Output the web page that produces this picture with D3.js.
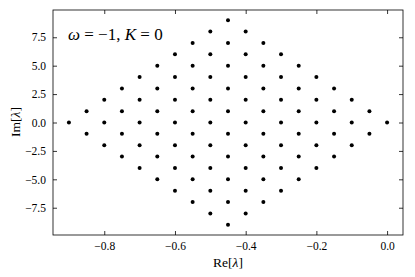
<!DOCTYPE html>
<html>
<head>
<meta charset="utf-8">
<script src="https://cdn.jsdelivr.net/npm/d3@7"></script>
<style>
  body { margin: 0; background: #fff; }
  text { font-family: "Liberation Serif", "Times New Roman", serif; fill: #000; }
</style>
</head>
<body>
<svg id="chart" width="415" height="277"></svg>
<script>
// eigenvalue columns: real part and the imaginary parts found at it
var re_vals = [0, -0.05, -0.1, -0.15, -0.2, -0.25, -0.3, -0.35, -0.4, -0.45,
               -0.5, -0.55, -0.6, -0.65, -0.7, -0.75, -0.8, -0.85, -0.9];
var im_vals = [
  [0],
  [-1, 1],
  [-2, 0, 2],
  [-3, -1, 1, 3],
  [-4, -2, 0, 2, 4],
  [-5, -3, -1, 1, 3, 5],
  [-6, -4, -2, 0, 2, 4, 6],
  [-7, -5, -3, -1, 1, 3, 5, 7],
  [-8, -6, -4, -2, 0, 2, 4, 6, 8],
  [-9, -7, -5, -3, -1, 1, 3, 5, 7, 9],
  [-8, -6, -4, -2, 0, 2, 4, 6, 8],
  [-7, -5, -3, -1, 1, 3, 5, 7],
  [-6, -4, -2, 0, 2, 4, 6],
  [-5, -3, -1, 1, 3, 5],
  [-4, -2, 0, 2, 4],
  [-3, -1, 1, 3],
  [-2, 0, 2],
  [-1, 1],
  [0]
];
var x_ticks = [-0.8, -0.6, -0.4, -0.2, 0.0];
var y_ticks = [-7.5, -5.0, -2.5, 0.0, 2.5, 5.0, 7.5];

var m_left = 53, m_right = 403, m_top = 10, m_bottom = 235;

var svg = d3.select("#chart");

var x = d3.scaleLinear().domain([-0.945, 0.045]).range([m_left, m_right]);
var y = d3.scaleLinear().domain([-9.9, 9.9]).range([m_bottom, m_top]);

var points = [];
re_vals.forEach(function(r, i) {
  im_vals[i].forEach(function(m) { points.push([r, m]); });
});

svg.selectAll("circle.pt")
  .data(points)
  .enter().append("circle")
  .attr("class", "pt")
  .attr("cx", d => x(d[0]))
  .attr("cy", d => y(d[1]))
  .attr("r", 2)
  .attr("fill", "#000");

function fmt(v) { return v.toFixed(1).replace("-", "\u2212"); }

// axes with inward ticks on all four sides
var ax_b = svg.append("g").attr("transform", "translate(0," + m_bottom + ")")
  .call(d3.axisBottom(x).tickValues(x_ticks).tickSizeInner(-4).tickSizeOuter(0).tickPadding(7).tickFormat(fmt));
var ax_t = svg.append("g").attr("transform", "translate(0," + m_top + ")")
  .call(d3.axisTop(x).tickValues(x_ticks).tickSizeInner(-4).tickSizeOuter(0).tickFormat(""));
var ax_l = svg.append("g").attr("transform", "translate(" + m_left + ",0)")
  .call(d3.axisLeft(y).tickValues(y_ticks).tickSizeInner(-4).tickSizeOuter(0).tickPadding(7).tickFormat(fmt));
var ax_r = svg.append("g").attr("transform", "translate(" + m_right + ",0)")
  .call(d3.axisRight(y).tickValues(y_ticks).tickSizeInner(-4).tickSizeOuter(0).tickFormat(""));

[ax_b, ax_t, ax_l, ax_r].forEach(function(a) {
  a.attr("font-family", null);
  a.select(".domain").remove();
  a.selectAll("line").attr("stroke", "#000").attr("stroke-width", 0.8);
  a.selectAll("text").style("font-family", "'Liberation Serif', serif").style("font-size", "11.5px").attr("fill", "#000");
});

// frame
svg.append("rect")
  .attr("x", m_left).attr("y", m_top)
  .attr("width", m_right - m_left).attr("height", m_bottom - m_top)
  .attr("fill", "none").attr("stroke", "#000").attr("stroke-width", 0.8);

// labels
var xl = svg.append("text").attr("x", 228).attr("y", 267)
  .attr("text-anchor", "middle").style("font-size", "13.5px");
xl.append("tspan").text("Re[");
xl.append("tspan").style("font-style", "italic").text("\u03bb");
xl.append("tspan").text("]");

var yl = svg.append("text")
  .attr("transform", "translate(20,122) rotate(-90)")
  .attr("text-anchor", "middle").style("font-size", "13.5px");
yl.append("tspan").text("Im[");
yl.append("tspan").style("font-style", "italic").text("\u03bb");
yl.append("tspan").text("]");

var ttl = svg.append("text").attr("x", 68).attr("y", 40).style("font-size", "17px");
ttl.append("tspan").style("font-style", "italic").text("\u03c9");
ttl.append("tspan").text(" = \u22121, ");
ttl.append("tspan").style("font-style", "italic").text("K");
ttl.append("tspan").text(" = 0");
</script>
</body>
</html>
